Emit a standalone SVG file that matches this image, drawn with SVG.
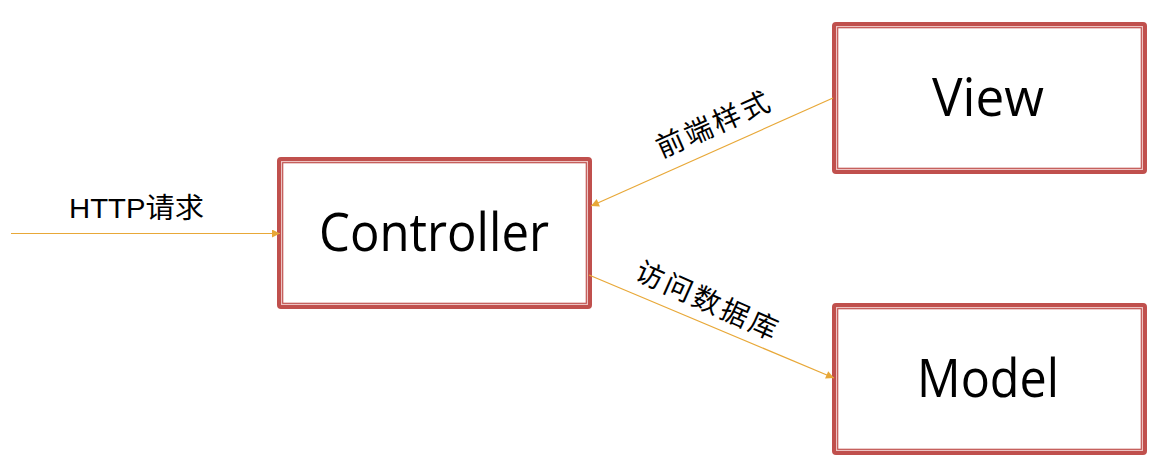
<svg xmlns="http://www.w3.org/2000/svg" width="1172" height="468" viewBox="0 0 1172 468">
<style>
.outer{fill:#fff;stroke:#C0504D;stroke-width:4}
.pink{fill:none;stroke:#EDC4C3;stroke-width:1}
.inner{fill:none;stroke:#C0504D;stroke-width:1.2}
.big{font-family:"Open Sans","Noto Sans",sans-serif;font-size:53px;fill:#000}
.lbl{font-family:"Liberation Sans","Noto Sans CJK SC",sans-serif;font-size:28px;fill:#000}
.cjk{font-family:"Noto Sans CJK SC",sans-serif;font-size:28px;fill:#000}
.conn{stroke:#E8A838;stroke-width:1.2;fill:none}
</style>
<defs>
<marker id="arr" viewBox="0 0 10 10" refX="10" refY="5" markerWidth="10" markerHeight="8" markerUnits="userSpaceOnUse" orient="auto">
<path d="M0,0 L10,5 L0,10 z" fill="#E8A838"/>
</marker>
</defs>
<rect width="1172" height="468" fill="#fff"/>
<g id="controller">
<rect class="outer" x="279" y="159" width="311" height="148" rx="2"/>
<rect class="pink" x="281.5" y="161.5" width="306" height="143"/>
<rect class="inner" x="282.7" y="162.7" width="303.6" height="140.6"/>
<text class="big" x="319" y="251" textLength="230" lengthAdjust="spacingAndGlyphs">Controller</text>
</g>
<g id="view">
<rect class="outer" x="834" y="24" width="311" height="148" rx="2"/>
<rect class="pink" x="836.5" y="26.5" width="306" height="143"/>
<rect class="inner" x="837.7" y="27.7" width="303.6" height="140.6"/>
<text class="big" x="932" y="116" textLength="112" lengthAdjust="spacingAndGlyphs">View</text>
</g>
<g id="model">
<rect class="outer" x="834" y="305" width="311" height="148" rx="2"/>
<rect class="pink" x="836.5" y="307.5" width="306" height="143"/>
<rect class="inner" x="837.7" y="308.7" width="303.6" height="140.6"/>
<text class="big" x="917" y="397" textLength="142" lengthAdjust="spacingAndGlyphs">Model</text>
</g>
<g id="connectors">
<line class="conn" x1="11" y1="233.5" x2="280" y2="233.5" marker-end="url(#arr)"/>
<line class="conn" x1="833" y1="98" x2="591" y2="206" marker-end="url(#arr)"/>
<line class="conn" x1="589" y1="275" x2="834" y2="378" marker-end="url(#arr)"/>
<text class="lbl" x="69" y="218" textLength="135" lengthAdjust="spacingAndGlyphs">HTTP请求</text>
<text class="cjk" text-anchor="middle" letter-spacing="3" transform="translate(714,124) rotate(-24)" y="10">前端样式</text>
<text class="cjk" text-anchor="middle" letter-spacing="3" transform="translate(708,301) rotate(24)" y="10">访问数据库</text>
</g>
</svg>
